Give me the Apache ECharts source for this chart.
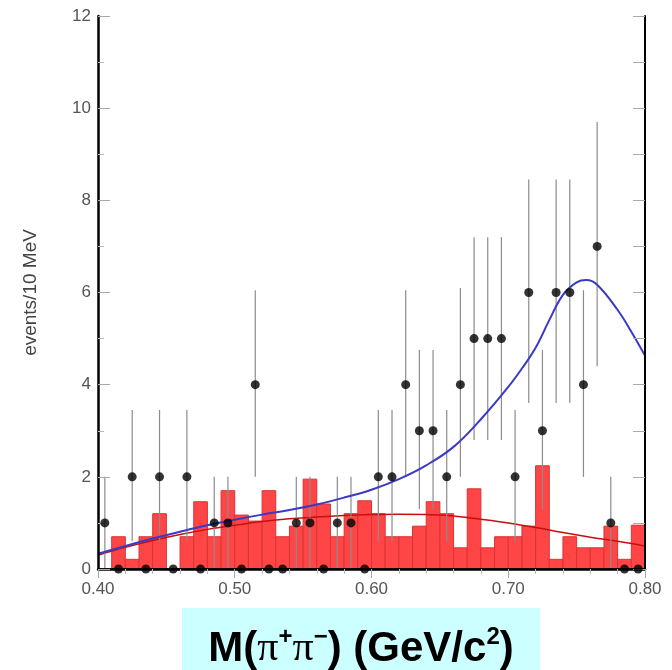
<!DOCTYPE html>
<html>
<head>
<meta charset="utf-8">
<script src="https://cdn.jsdelivr.net/npm/echarts@6/dist/echarts.min.js"></script>
<style>
html,body{margin:0;padding:0;background:#fff;}
#main{width:672px;height:670px;}
</style>
</head>
<body>
<div id="main"></div>
<script>
// 10 MeV bins, bin centres in GeV/c^2
var massBins = [0.405,0.415,0.425,0.435,0.445,0.455,0.465,0.475,0.485,0.495,
                0.505,0.515,0.525,0.535,0.545,0.555,0.565,0.575,0.585,0.595,
                0.605,0.615,0.625,0.635,0.645,0.655,0.665,0.675,0.685,0.695,
                0.705,0.715,0.725,0.735,0.745,0.755,0.765,0.775,0.785,0.795];
var binWidth = 0.01;

// data points (events per bin) and their error bars
var counts  = [1,0,2,0,2,0,2,0,1,1, 0,4,0,0,1,1,0,1,1,0, 2,2,4,3,3,2,4,5,5,5, 2,6,3,6,6,4,7,1,0,0];
var errLow  = [0,null,0.6,null,0.6,null,0.6,null,0,0, null,2.0,null,null,0,0,null,0,0,null,
               0.6,0.6,2.0,1.3,1.3,0.6,2.0,2.8,2.8,2.8, 0.6,3.6,1.3,3.6,3.6,2.0,4.4,0,null,null];
var errHigh = [2.0,null,3.45,null,3.45,null,3.45,null,2.0,2.0, null,6.05,null,null,2.0,2.0,null,2.0,2.0,null,
               3.45,3.45,6.05,4.75,4.75,3.45,6.1,7.2,7.2,7.2, 3.45,8.45,4.75,8.45,8.45,6.05,9.7,2.0,null,null];

// red filled histogram (background estimate)
var sideband = [0,0.70,0.21,0.70,1.20,0,0.70,1.46,0.70,1.70,
                1.17,1.04,1.70,0.70,0.93,1.95,1.41,0.70,1.20,1.48,
                1.20,0.70,0.70,0.93,1.46,1.20,0.46,1.74,0.46,0.70,
                0.70,0.93,2.24,0.21,0.70,0.46,0.46,0.93,0.21,0.95];

// fit curves
var fitMass  = [0.400,0.420,0.440,0.460,0.480,0.500,0.520,0.540,0.560,0.580,0.600,0.620,0.640,
                0.660,0.680,0.700,0.710,0.720,0.730,0.740,0.750,0.757,0.765,0.780,0.790,0.800];
var fitTotal = [0.33,0.50,0.66,0.81,0.95,1.07,1.18,1.28,1.40,1.55,1.72,1.95,2.25,
                2.65,3.25,3.95,4.35,4.80,5.40,5.95,6.22,6.27,6.17,5.62,5.15,4.63];
var bkgMass  = [0.400,0.420,0.440,0.460,0.480,0.500,0.520,0.540,0.560,0.580,0.600,
                0.620,0.640,0.660,0.680,0.700,0.720,0.740,0.760,0.780,0.800];
var fitBkg   = [0.30,0.47,0.62,0.75,0.86,0.95,1.03,1.09,1.13,1.16,1.18,
                1.19,1.18,1.15,1.08,1.00,0.90,0.79,0.69,0.60,0.50];

var histData = [], pointData = [], errData = [];
for (var i = 0; i < massBins.length; i++) {
    histData.push([massBins[i], sideband[i]]);
    pointData.push([massBins[i], counts[i]]);
    if (errHigh[i] !== null) errData.push([massBins[i], errLow[i], errHigh[i]]);
}
var totalData = fitMass.map(function (m, i) { return [m, fitTotal[i]]; });
var bkgData = bkgMass.map(function (m, i) { return [m, fitBkg[i]]; });

var labelFont = 'Liberation Sans, Arial, sans-serif';
var myChart = echarts.init(document.getElementById('main'));
var option = {
    animation: false,
    backgroundColor: '#fff',
    grid: {left: 98, right: 27, top: 16, bottom: 101},
    xAxis: [
        {
            type: 'value', min: 0.4, max: 0.8, interval: 0.1, z: 5,
            axisLine: {lineStyle: {color: '#000', width: 2.5}},
            axisTick: {show: false},
            splitLine: {show: false},
            axisLabel: {
                fontSize: 17, color: '#555', fontFamily: labelFont, margin: 12,
                formatter: function (v) { return v.toFixed(2); }
            }
        },
        {
            type: 'value', position: 'top', min: 0.4, max: 0.8, interval: 0.1, z: 5,
            axisLine: {lineStyle: {color: '#000', width: 1.5}},
            axisTick: {inside: true, length: 9, lineStyle: {color: '#aaa'}},
            minorTick: {show: true, splitNumber: 5, length: 5, lineStyle: {color: '#bbb'}},
            axisLabel: {show: false},
            splitLine: {show: false}
        }
    ],
    yAxis: [
        {
            type: 'value', min: 0, max: 12, interval: 2, z: 5,
            name: 'events/10 MeV', nameLocation: 'middle', nameGap: 58,
            nameTextStyle: {fontSize: 19, color: '#444', fontFamily: labelFont},
            axisLine: {show: true, lineStyle: {color: '#000', width: 2.5}},
            axisTick: {show: true, inside: true, length: 12, lineStyle: {color: '#aaa'}},
            minorTick: {show: true, splitNumber: 2, length: 6, lineStyle: {color: '#bbb'}},
            splitLine: {show: false},
            axisLabel: {fontSize: 17, color: '#555', fontFamily: labelFont, margin: 7}
        },
        {
            type: 'value', position: 'right', min: 0, max: 12, interval: 1, z: 5,
            axisLine: {show: true, lineStyle: {color: '#000', width: 2}},
            axisTick: {show: true, inside: true, length: 12, lineStyle: {color: '#aaa'}},
            axisLabel: {show: false},
            splitLine: {show: false}
        }
    ],
    series: [
        {
            name: 'sideband', type: 'custom', xAxisIndex: 0, yAxisIndex: 0, z: 1,
            renderItem: function (params, api) {
                var c = api.value(0), h = api.value(1);
                if (!h) return null;
                var p0 = api.coord([c - binWidth / 2, h]);
                var p1 = api.coord([c + binWidth / 2, 0]);
                return {
                    type: 'rect',
                    shape: {x: p0[0], y: p0[1], width: p1[0] - p0[0], height: p1[1] - p0[1]},
                    style: {fill: '#ff4545', stroke: '#d83434', lineWidth: 1}
                };
            },
            data: histData
        },
        {
            name: 'background', type: 'line', smooth: 0.4, showSymbol: false, z: 2,
            lineStyle: {color: '#c80f0f', width: 1.5},
            data: bkgData
        },
        {
            name: 'errors', type: 'custom', z: 3,
            renderItem: function (params, api) {
                var c = api.value(0);
                var lo = api.coord([c, api.value(1)]);
                var hi = api.coord([c, api.value(2)]);
                return {
                    type: 'line',
                    shape: {x1: lo[0], y1: lo[1], x2: hi[0], y2: hi[1]},
                    style: {stroke: '#8c8c8c', lineWidth: 1.2}
                };
            },
            data: errData
        },
        {
            name: 'total', type: 'line', smooth: 0.4, showSymbol: false, z: 4,
            lineStyle: {color: '#3a3ac4', width: 2},
            data: totalData
        },
        {
            name: 'data', type: 'scatter', symbolSize: 9, clip: false, z: 6,
            itemStyle: {color: '#000'},
            data: pointData
        }
    ],
    graphic: [
        {type: 'rect', left: 182, top: 608, shape: {width: 358, height: 62}, style: {fill: '#ccffff'}},
        {
            type: 'text', x: 361, y: 649,
            style: {
                text: '{b|M(}{p|π}{s|+}{p|π}{s|−}{b|) (GeV/c}{s|2}{b|)}',
                align: 'center', verticalAlign: 'middle',
                rich: {
                    b: {fontSize: 42, fontWeight: 'bold', fontFamily: labelFont, lineHeight: 48, fill: '#000'},
                    p: {fontSize: 42, fontFamily: 'Liberation Serif, serif', lineHeight: 48, fill: '#000'},
                    s: {fontSize: 24, fontWeight: 'bold', fontFamily: labelFont, lineHeight: 29, verticalAlign: 'top', fill: '#000'}
                }
            }
        }
    ]
};
myChart.setOption(option);
</script>
</body>
</html>
